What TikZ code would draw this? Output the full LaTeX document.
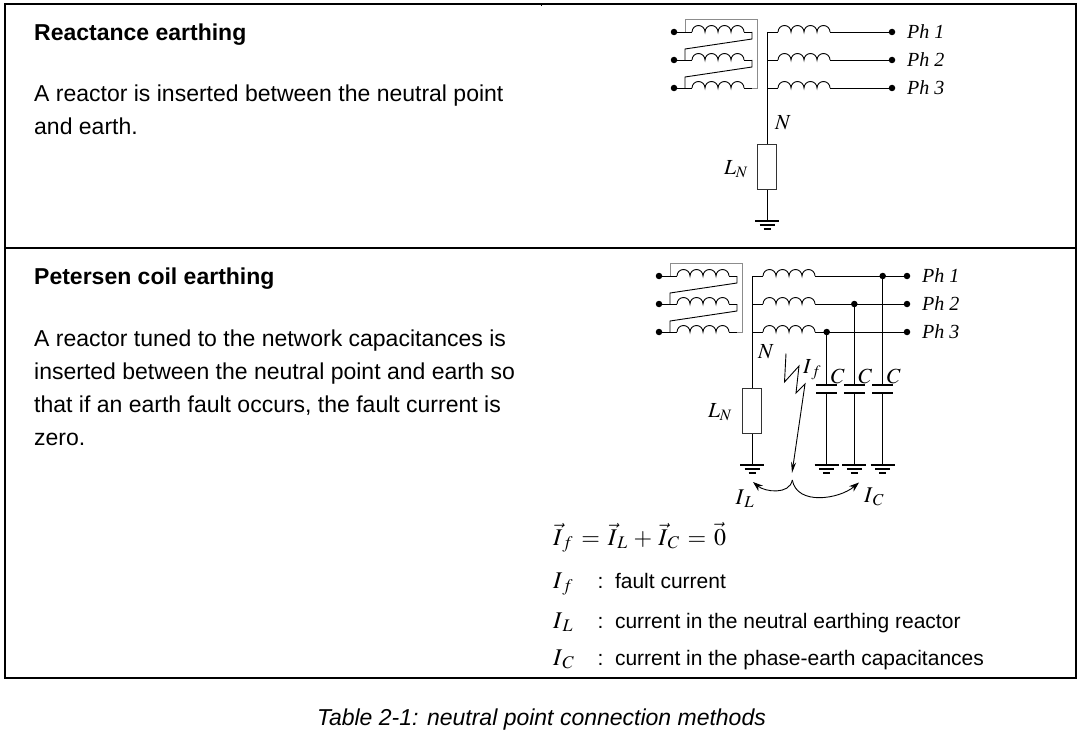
\documentclass[tikz,border=0pt]{standalone}
\usepackage{mathptmx}
\usepackage[no-math]{fontspec}
\setmainfont{Liberation Sans}
\newfontfamily\tms{Liberation Serif}
\usetikzlibrary{arrows.meta}

\tikzset{
  wire/.style={line width=0.9pt},
  tablerule/.style={line width=2pt},
  trafoframe/.style={wire, draw=black!45},
  dot/.style={circle, fill, inner sep=0pt, minimum size=6.5pt},
  reactor/.style={draw=black!80, line width=1.5pt, fill=white, minimum width=19pt, minimum height=45pt, inner sep=0pt},
  sym/.style={font=\fontsize{21.5}{22}\selectfont, inner sep=0pt},
  phase/.style={font=\tms\itshape\fontsize{20}{20}\selectfont, anchor=west, inner sep=0pt},
  body/.style={font=\fontsize{23}{33}\selectfont, anchor=base west, inner sep=0pt},
  head/.style={body, font=\bfseries\fontsize{23}{33}\selectfont},
  legend/.style={font=\fontsize{21}{21}\selectfont, anchor=base west, inner sep=0pt},
  coil/.pic={\draw[wire] (0,0) arc[start angle=180,end angle=0,radius=6.5]
      arc[start angle=180,end angle=0,radius=6.5] arc[start angle=180,end angle=0,radius=6.5]
      arc[start angle=180,end angle=0,radius=6.5];},
  ground/.pic={\draw[line width=2pt] (-12,0) -- (12,0);
      \draw[line width=1.4pt] (-7.5,-4) -- (7.5,-4) (-3.5,-8) -- (3.5,-8);},
  capacitor/.pic={\draw[line width=2.2pt] (-10.5,4) -- (10.5,4) (-10.5,-4) -- (10.5,-4);},
}

\begin{document}
\begin{tikzpicture}[x=1pt,y=1pt]
  \useasboundingbox (0,0) rectangle (1083,-741);

  % table
  \draw[tablerule] (5,-4) rectangle (1076,-677.5);
  \draw[tablerule] (5,-248) -- (1076,-248);
  \draw[line width=0.8pt] (541,-4) -- (541,-6.5);

  \node[head] (t1) at (34,-40.7) {Reactance earthing};
  \node[body] (t2) at (34,-101.7) {A reactor is inserted between the neutral point};
  \node[body] (t3) at (34,-134.7) {and earth.};
  \node[head] (t4) at (34,-284.5) {Petersen coil earthing};
  \foreach \txt [count=\i] in {A reactor tuned to the network capacitances is,
      inserted between the neutral point and earth so,
      {that if an earth fault occurs, the fault current is}, zero.}
    \node[body] (p\i) at (34,{-346.5-33*(\i-1)}) {\txt};
  \node[font=\itshape\fontsize{23}{23}\selectfont, inner sep=0pt, anchor=base] (cap) at (541.5,-725) {Table 2-1: neutral point connection methods};

  % both transformers
  \foreach \s/\dx/\dy in {1/0/0, 2/-15/-244} {
    \begin{scope}[shift={(\dx,\dy)}]
      \foreach \p/\y in {1/-32, 2/-60, 3/-88} {
        \node[dot] (in\s\p) at (674,\y) {};
        \draw[wire] (in\s\p) -- (692,\y) (744,\y) -- (752,\y) (767,\y) -- (778,\y);
        \pic at (692,\y) {coil};
        \pic at (778,\y) {coil};
        \coordinate (out\s\p) at (830,\y);
      }
      \draw[wire] (752,-32) -- (752,-39) -- (685,-49) -- (685,-60)
                  (752,-60) -- (752,-67) -- (685,-77) -- (685,-88);
      \draw[trafoframe] (685,-32) |- (757,-19) |- (752,-88);
      \coordinate (n\s) at (767,-32);
    \end{scope}
  }

  % reactance earthing
  \node[reactor] (L1) at (767,-167) {};
  \coordinate (g1) at (767,-221);
  \draw[wire] (n1) -- (L1.north) (L1.south) -- (g1);
  \pic at (g1) {ground};
  \node[sym] (N1) at (783,-123) {$N$};
  \node[sym] (LN1) at (736,-169) {$L_N$};
  \foreach \p/\y in {1/-32, 2/-60, 3/-88} {
    \node[dot] (ph1\p) at (892,\y) {};
    \draw[wire] (out1\p) -- (ph1\p);
    \node[phase] at (907,\y) {Ph \p};
  }

  % petersen coil
  \node[reactor] (L2) at (752,-411) {};
  \coordinate (g2) at (752,-465);
  \draw[wire] (n2) -- (L2.north) (L2.south) -- (g2);
  \pic at (g2) {ground};
  \node[sym] (N2) at (766,-352) {$N$};
  \node[sym] (LN2) at (720,-412) {$L_N$};
  \foreach \p/\x/\y in {1/882.7/-276, 2/854.3/-304, 3/826.7/-332} {
    \node[dot] (ph2\p) at (907,\y) {};
    \draw[wire] (out2\p) -- (ph2\p);
    \node[phase] at (922,\y) {Ph \p};
    \node[dot] (j\p) at (\x,\y) {};
    \coordinate (ct\p) at (\x,-385);
    \coordinate (cb\p) at (\x,-393);
    \coordinate (e\p) at (\x,-465);
    \draw[wire] (j\p) -- (ct\p) (cb\p) -- (e\p);
    \pic at (\x,-389) {capacitor};
    \pic at (e\p) {ground};
    \node[sym] (C\p) at (\x+11,-376.5) {$C$};
  }

  % fault and currents
  \coordinate (f0) at (786,-353.5);
  \coordinate (ft) at (792,-473);
  \draw[wire, -{Stealth[length=11pt, width=5pt]}] (f0) -- (784.5,-382) -- (799,-366) -- (796,-393) -- (805,-384) -- (ft);
  \node[sym] (If) at (812,-370) {$I_{\,f}$};
  \coordinate (cusp) at (792.3,-480);
  \coordinate (tL) at (753,-482);
  \coordinate (tR) at (859,-482.5);
  \draw[wire, -{Stealth[length=10pt, width=7pt]}] (cusp) to[out=-100, in=-40] (tL);
  \draw[wire, -{Stealth[length=10pt, width=7pt]}] (cusp) to[out=-80, in=-140] (tR);
  \node[sym, font=\fontsize{22.5}{23}\selectfont] (IL) at (745,-499) {$I_{\,L}$};
  \node[sym, font=\fontsize{22.5}{23}\selectfont] (IC) at (874,-497) {$I_{\,C}$};

  % equation and legend
  \node[legend, font=\fontsize{24}{24}\selectfont] (eq) at (553,-545)
    {$\vec{I}_{\,f} \mkern2mu=\mkern2mu \vec{I}_{\,L} \,+\, \vec{I}_{\,C} \mkern2mu=\mkern2mu \vec{0}$};
  \foreach \symb/\desc/\y [count=\i] in {I_{\,f}/fault current/-588,
      I_{\,L}/current in the neutral earthing reactor/-628,
      I_{\,C}/current in the phase-earth capacitances/-665} {
    \node[legend, font=\fontsize{24}{24}\selectfont] (s\i) at (553,\y) {$\symb$};
    \node[legend] (d\i) at (597.5,\y) {:\hspace{11.5pt}\desc};
  }
\end{tikzpicture}
\end{document}
